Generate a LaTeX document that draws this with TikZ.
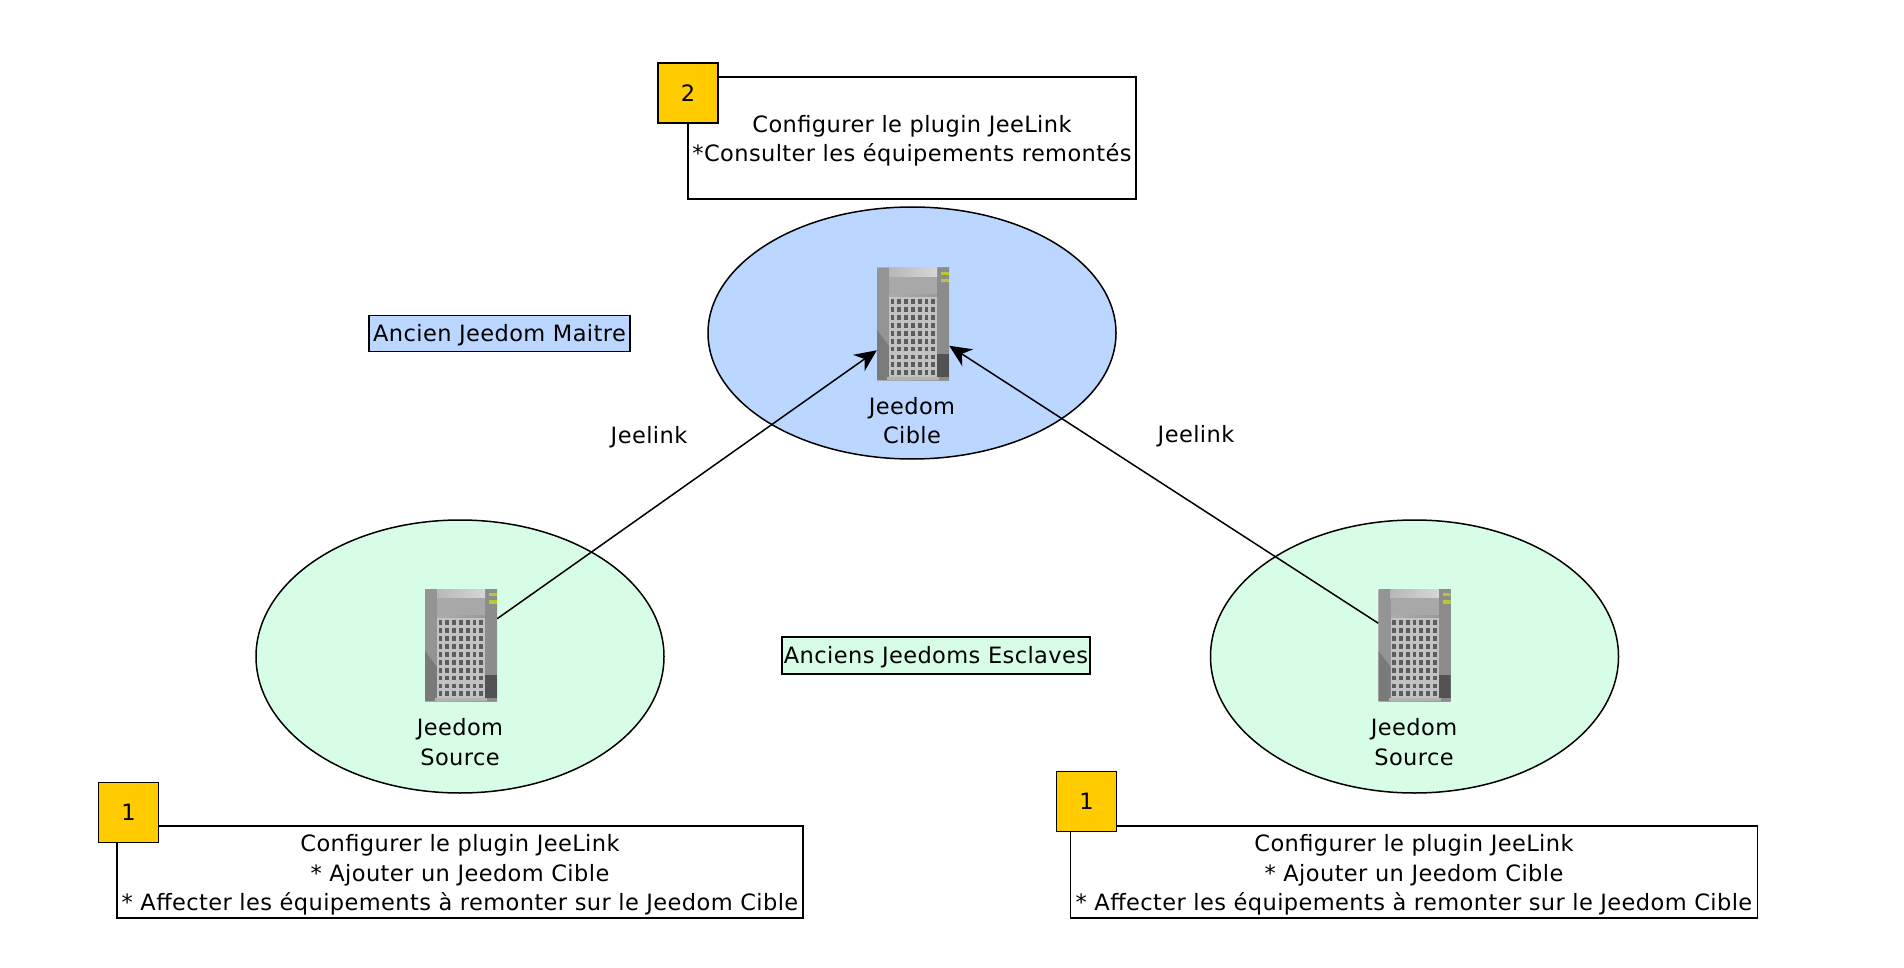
\documentclass[tikz,border=0pt]{standalone}
\usepackage{fontspec}
\setmainfont[LetterSpace=1.8]{DejaVu Sans}
\usetikzlibrary{arrows.meta,shapes.geometric}

\definecolor{masterblue}{HTML}{BBD7FF}
\definecolor{slavegreen}{HTML}{D8FDE7}
\definecolor{stepyellow}{HTML}{FFCC00}
\definecolor{ledgreen}{HTML}{B8C832}

\tikzset{
  site/.style={draw, ellipse, line width=1.5pt, minimum width=408pt, minimum height=252pt},
  legend/.style={draw, line width=1.3pt, inner sep=0pt, text height=20pt},
  notebox/.style={draw, fill=white, line width=1.4pt, inner sep=0pt, align=center, text height=82pt, minimum height=92pt},
  badge/.style={draw, fill=stepyellow, line width=1.4pt, minimum size=60pt, inner sep=0pt},
  caption/.style={align=center, inner sep=0pt},
  server/.style={rectangle, minimum width=72pt, minimum height=112pt, inner sep=0pt,
    path picture={
      \begin{scope}[shift={(path picture bounding box.center)}]
        \shade[left color=black!30, right color=black!42] (-36,-56) rectangle (36,56);
        \fill[black!42] (-36,-56) rectangle (-24,56);
        \fill[black!52] (-36,6) -- (-24,22) -- (-24,56) -- (-36,56) -- cycle;
        \fill[black!45] (24,-56) rectangle (36,56);
        \fill[black!68] (24,30) rectangle (36,53);
        \shade[left color=black!28, right color=black!16] (-24,-56) rectangle (24,-47);
        \fill[black!34] (-24,-47) rectangle (24,-30);
        \fill[black!24] (-24,-27) rectangle (24,53);
        \foreach \col in {0,...,6}
          \foreach \row in {0,...,9}
            \fill[black!64] ({-20.5+6.8*\col-1.9},{-22.3+7.9*\row-2.4}) rectangle ++(3.8,4.8);
        \fill[black!30] (-26,53) rectangle (26,56);
        \fill[ledgreen] (28,-52) rectangle (36,-49);
        \fill[ledgreen] (28,-45) rectangle (36,-41.5);
      \end{scope}
    }},
  link/.style={draw, line width=1.5pt, -{Stealth[length=22pt, width=20pt, inset=7pt]}}
}

\begin{document}
\begin{tikzpicture}[x=1pt, y=-1pt, font=\fontsize{22.5}{29.5}\selectfont]
\useasboundingbox (0,0) rectangle (1904,968);

% sites
\node[site, fill=masterblue] (siteCible) at (912,333) {};
\node[site, fill=slavegreen, minimum height=273pt] (siteSourceA) at (460,656.5) {};
\node[site, fill=slavegreen, minimum height=273pt] (siteSourceB) at (1414.5,656.5) {};

% servers
\node[server] (cible) at (913,324) {};
\node[server] (sourceA) at (461,645) {};
\node[server] (sourceB) at (1414.5,645) {};

\node[caption] (cibleText) at (912,420.5) {Jeedom\\Cible};
\node[caption] (sourceAText) at (460,742) {Jeedom\\Source};
\node[caption] (sourceBText) at (1414,742) {Jeedom\\Source};

% links
\draw[link] (sourceA.36) -- (cible.216);
\draw[link] (sourceB.149) -- (cible.329);
\node[caption] (linkA) at (649,437.5) {Jeelink};
\node[caption] (linkB) at (1196,436.5) {Jeelink};

% legend
\node[legend, fill=masterblue, minimum width=261pt, minimum height=36pt] (legendMaster) at (499.5,333.5) {Ancien Jeedom Maitre};
\node[legend, fill=slavegreen, minimum width=308pt, minimum height=37pt] (legendSlave) at (936,655.5) {Anciens Jeedoms Esclaves};

% notes
\node[notebox, minimum width=448pt, minimum height=122pt, text height=52pt] (noteCible) at (912,138) {Configurer le plugin JeeLink\\*Consulter les équipements remontés};
\node[badge] (badgeCible) at (688,93) {2};

\node[notebox, minimum width=686pt] (noteA) at (460,872) {Configurer le plugin JeeLink\\* Ajouter un Jeedom Cible\\* Affecter les équipements à remonter sur le Jeedom Cible};
\node[badge] (badgeA) at (128.5,812.5) {1};

\node[notebox, minimum width=687pt] (noteB) at (1414,872) {Configurer le plugin JeeLink\\* Ajouter un Jeedom Cible\\* Affecter les équipements à remonter sur le Jeedom Cible};
\node[badge] (badgeB) at (1086.5,801.5) {1};
\end{tikzpicture}
\end{document}
